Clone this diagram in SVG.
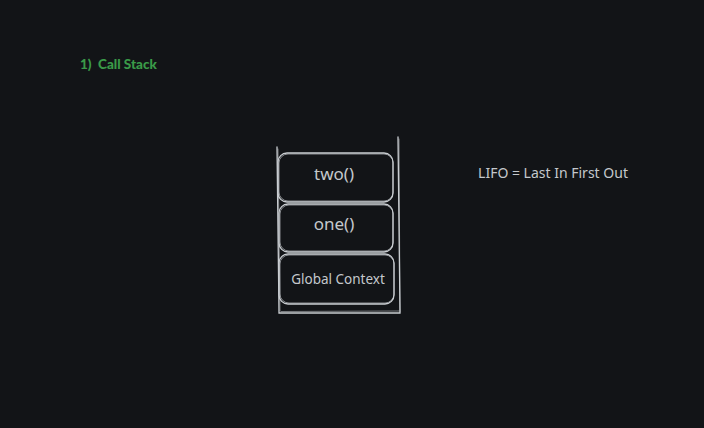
<svg xmlns="http://www.w3.org/2000/svg" width="704" height="428" viewBox="0 0 704 428">
<style>
.bg{fill:#121417}
.box{fill:none;stroke:#c9cdd1;stroke-width:1.3}
.box2{fill:none;stroke:#c9cdd1;stroke-width:0.8;opacity:0.8}
.line{fill:none;stroke:#c9cdd1;stroke-width:1.3;stroke-linecap:round}
.t{font-family:"Noto Sans","Open Sans",sans-serif;fill:#c4c8cc;text-anchor:middle}
.title{font-family:"Lato","Open Sans",sans-serif;font-weight:900;font-size:13.5px;fill:#3a9a48;white-space:pre}
</style>
<rect class="bg" x="0" y="0" width="704" height="428"/>
<g id="title"><text class="title" x="80" y="69" xml:space="preserve">1)  Call Stack</text></g>
<g id="container">
<path class="line" d="M277 147 L279 313 L400 313 L398 137"/>
<path class="line" d="M278 149 L280 311 M281 311.5 L399 311 M399 139 L400 312" style="stroke-width:0.8;opacity:0.7"/>
</g>
<g id="two">
<rect class="box" x="278" y="153" width="115" height="49" rx="9"/>
<rect class="box2" x="279" y="154" width="114" height="47" rx="9"/>
<text class="t" x="334" y="180" font-size="17">two()</text>
</g>
<g id="one">
<rect class="box" x="279" y="204" width="114" height="48" rx="9"/>
<rect class="box2" x="280" y="205" width="113" height="46" rx="9"/>
<text class="t" x="334" y="230" font-size="17">one()</text>
</g>
<g id="global">
<rect class="box" x="279" y="254" width="115" height="50" rx="9"/>
<rect class="box2" x="280" y="255" width="114" height="48" rx="9"/>
<text class="t" x="338" y="284" font-size="13.5">Global Context</text>
</g>
<g id="lifo"><text class="t" x="553" y="178" font-size="14">LIFO = Last In First Out</text></g>
<g id="connectors"></g>
</svg>
